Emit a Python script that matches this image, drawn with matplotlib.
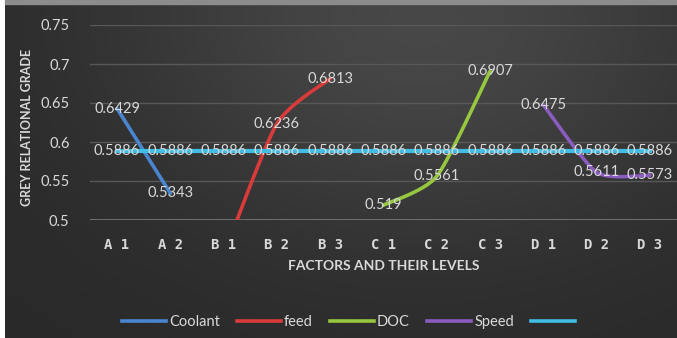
import matplotlib
matplotlib.use('Agg')
import matplotlib.pyplot as plt
import numpy as np
from matplotlib.lines import Line2D

levels = ['A 1', 'A 2', 'B 1', 'B 2', 'B 3', 'C 1', 'C 2', 'C 3', 'D 1', 'D 2', 'D 3']

coolant_idx = [0, 1]
coolant = [0.6429, 0.5343]
feed_idx = [2, 3, 4]
feed = [0.455, 0.6236, 0.6813]
doc_idx = [5, 6, 7]
doc = [0.519, 0.5561, 0.6907]
speed_idx = [8, 9, 10]
speed = [0.6475, 0.5611, 0.5573]
mean_grade = [0.5886] * 11

yticks = [0.5, 0.55, 0.6, 0.65, 0.7, 0.75]
ytick_labels = ['0.5', '0.55', '0.6', '0.65', '0.7', '0.75']

txt = '#d9d9d9'
font = ['Lato', 'DejaVu Sans']


def smooth(xs, ys, n=40, k=9):
    # bezier through the points, a soft version of Excel's "smoothed line"
    pts = np.column_stack([xs, ys]).astype(float)
    if len(pts) < 3:
        return pts[:, 0], pts[:, 1]
    out = []
    for i in range(len(pts) - 1):
        p0 = pts[max(i - 1, 0)]
        p1 = pts[i]
        p2 = pts[i + 1]
        p3 = pts[min(i + 2, len(pts) - 1)]
        c1 = p1 + (p2 - p0) / k
        c2 = p2 - (p3 - p1) / k
        t = np.linspace(0, 1, n)[:, None]
        seg = ((1 - t) ** 3) * p1 + 3 * ((1 - t) ** 2) * t * c1 + 3 * (1 - t) * t ** 2 * c2 + t ** 3 * p2
        out.append(seg)
    out = np.vstack(out)
    return out[:, 0], out[:, 1]


fig = plt.figure(figsize=(6.77, 3.38), dpi=100, facecolor='white')

# dark gradient background
bg = fig.add_axes([5 / 677, 0, 1 - 5 / 677, 1 - 4 / 338])
bg.axis('off')
gx, gy = np.meshgrid(np.linspace(0, 1, 300), np.linspace(0, 1, 150))
val = 0.16 + 0.12 * np.exp(-((gx - 0.62) ** 2 / 0.22 + (gy - 0.95) ** 2 / 0.45))
bg.imshow(np.dstack([val, val, val]), aspect='auto', origin='lower', extent=[0, 1, 0, 1])
fig.patches.append(plt.Rectangle((5 / 677, 1 - 4 / 338), 1, 4 / 338, transform=fig.transFigure,
                                 color='#8c8c8c', zorder=0))

ax = fig.add_axes([90.4 / 677, 1 - 220 / 338, (676.6 - 90.4) / 677, 195 / 338])
ax.patch.set_alpha(0)
ax.set_xlim(-0.5, 10.5)
ax.set_ylim(0.5, 0.75)
for s in ax.spines.values():
    s.set_visible(False)
for y in yticks[1:]:
    ax.axhline(y, color='#585858', lw=1, zorder=1)
ax.axhline(0.5, color='#7a7a7a', lw=1.2, zorder=1)

ax.set_yticks(yticks)
ax.set_yticklabels(ytick_labels, color=txt, fontsize=10.5, family=font)
ax.set_xticks(range(len(levels)))
ax.set_xticklabels(levels, color=txt, fontsize=10, family='DejaVu Sans Mono', fontweight='bold')
ax.tick_params(axis='both', length=0)
ax.tick_params(axis='y', pad=15)
ax.tick_params(axis='x', pad=13)

c_blue = '#4a86cf'
c_red = '#d93b3b'
c_green = '#95c83e'
c_purple = '#8a5cbf'
c_cyan = '#3fbde2'

ax.plot(coolant_idx, coolant, color=c_blue, lw=2.6, zorder=3, solid_capstyle='round')
x, y = smooth(feed_idx, feed)
ax.plot(x, y, color=c_red, lw=2.6, zorder=3, solid_capstyle='round')
x, y = smooth(doc_idx, doc)
ax.plot(x, y, color=c_green, lw=2.6, zorder=3, solid_capstyle='round')
x, y = smooth(speed_idx, speed)
ax.plot(x, y, color=c_purple, lw=2.6, zorder=3, solid_capstyle='round')
ax.plot(range(11), mean_grade, color=c_cyan, lw=3, zorder=3)

for xs, ys in [(coolant_idx, coolant), (feed_idx, feed), (doc_idx, doc),
               (speed_idx, speed), (range(11), mean_grade)]:
    for xi, yi in zip(xs, ys):
        if yi < 0.5:
            continue
        ax.text(xi, yi, f'{yi:g}', ha='center', va='center', color=txt,
                fontsize=10.5, family=font, zorder=5)

ax.set_xlabel('FACTORS AND THEIR LEVELS', color=txt, fontsize=10, fontweight='bold',
              family=font, labelpad=6)
fig.text(27 / 677, 1 - 127 / 338, 'GREY RELATIONAL GRADE', rotation=90, ha='center',
         va='center', color=txt, fontsize=9, fontweight='bold', family=font)

handles = [Line2D([], [], color=c, lw=2.6) for c in [c_blue, c_red, c_green, c_purple, c_cyan]]
labels = ['Coolant', 'feed', 'DOC', 'Speed', ' ']
leg = fig.legend(handles, labels, loc='center', bbox_to_anchor=(0.52, 1 - 322 / 338), ncol=5,
                 frameon=False, handlelength=3, handletextpad=0.2, columnspacing=1.2,
                 prop={'family': font, 'size': 10.5})
for t in leg.get_texts():
    t.set_color(txt)

fig.savefig('out.png', dpi=100, facecolor='white')
